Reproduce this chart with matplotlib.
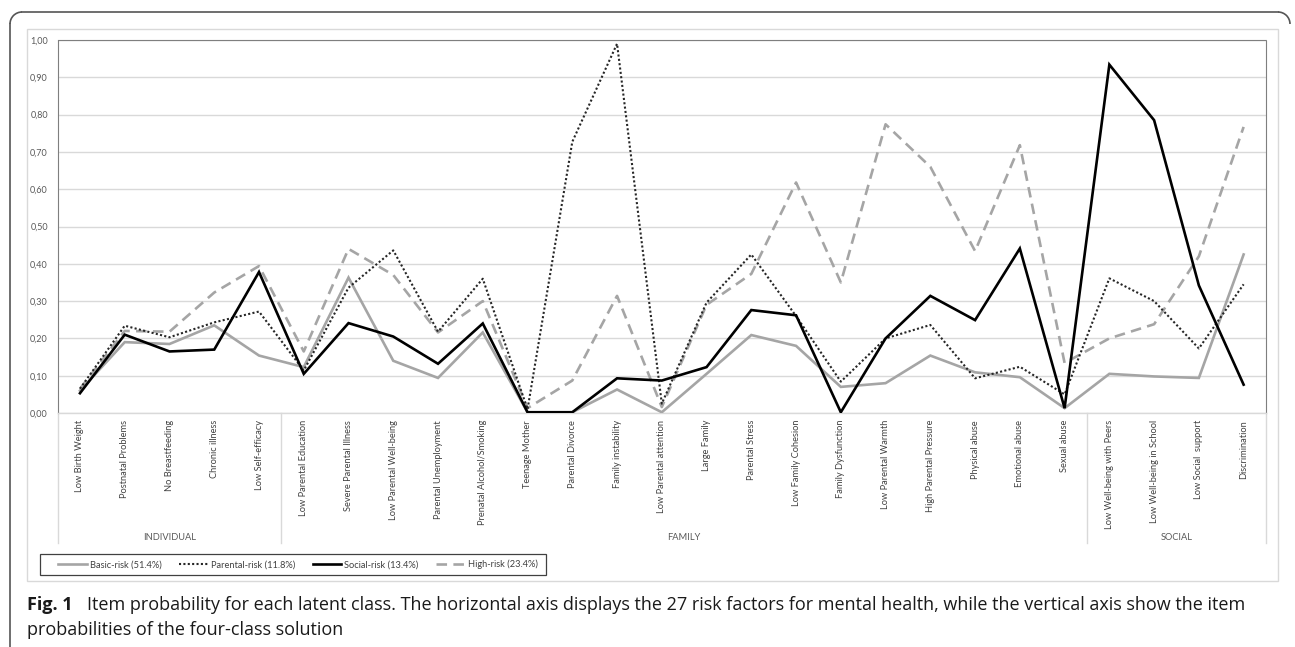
import matplotlib
matplotlib.use("Agg")
import matplotlib.pyplot as plt
from matplotlib.patches import Rectangle, Arc
from matplotlib.lines import Line2D
import matplotlib.transforms as mtransforms

categories = ["Low Birth Weight", "Postnatal Problems", "No Breastfeeding", "Chronic illness",
              "Low Self-efficacy", "Low Parental Education", "Severe Parental Illness",
              "Low Parental Well-being", "Parental Unemployment", "Prenatal Alcohol/Smoking",
              "Teenage Mother", "Parental Divorce", "Family instability", "Low Parental attention",
              "Large Family", "Parental Stress", "Low Family Cohesion", "Family Dysfunction",
              "Low Parental Warmth", "High Parental Pressure", "Physical abuse", "Emotional abuse",
              "Sexual abuse", "Low Well-being with Peers", "Low Well-being in School",
              "Low Social  support", "Discrimination"]
groups = ["INDIVIDUAL", "FAMILY", "SOCIAL"]
group_sizes = [5, 18, 4]

series_names = ["Basic-risk (51.4%)", "Parental-risk (11.8%)", "Social-risk (13.4%)", "High-risk (23.4%)"]
basic = [0.060, 0.190, 0.185, 0.235, 0.154, 0.123, 0.363, 0.140, 0.094, 0.216, 0.002, 0.002, 0.063,
         0.002, 0.105, 0.209, 0.180, 0.070, 0.080, 0.154, 0.109, 0.096, 0.013, 0.105, 0.098, 0.094, 0.425]
parental = [0.065, 0.234, 0.203, 0.243, 0.272, 0.114, 0.336, 0.436, 0.218, 0.360, 0.010, 0.727, 0.990,
            0.025, 0.296, 0.425, 0.260, 0.084, 0.200, 0.236, 0.093, 0.124, 0.050, 0.361, 0.300, 0.173, 0.345]
social = [0.053, 0.210, 0.165, 0.170, 0.378, 0.105, 0.241, 0.205, 0.132, 0.240, 0.002, 0.002, 0.093,
          0.087, 0.123, 0.276, 0.262, 0.002, 0.200, 0.314, 0.249, 0.441, 0.013, 0.934, 0.785, 0.342, 0.076]
high = [0.065, 0.220, 0.218, 0.323, 0.394, 0.165, 0.440, 0.370, 0.216, 0.300, 0.013, 0.087, 0.314,
        0.016, 0.290, 0.373, 0.618, 0.350, 0.774, 0.660, 0.434, 0.718, 0.134, 0.200, 0.238, 0.420, 0.767]

W, H = 1295, 647
fig = plt.figure(figsize=(W / 100, H / 100), dpi=100)
fig.patch.set_facecolor("white")

FONT = ["Lato", "DejaVu Sans"]
CAP_FONT = ["Open Sans", "DejaVu Sans"]

def fx(x):
    return x / W

def fy(y):
    return 1 - y / H

# axes in pixel layout
left, right, top, bottom = 57.6, 1266.0, 40.0, 413.0
ax = fig.add_axes([fx(left), fy(bottom), fx(right - left), (bottom - top) / H])
x = list(range(len(categories)))

ax.set_xlim(-0.5, len(categories) - 0.5)
ax.set_ylim(0, 1.0)
yt = [i / 10 for i in range(11)]
ax.set_yticks(yt)
ax.set_yticklabels([f"{v:.2f}".replace(".", ",") for v in yt], fontsize=6.5, color="#595959", family=FONT)
ax.grid(axis="y", color="#d9d9d9", lw=1.0)
ax.set_axisbelow(True)
ax.set_xticks(x)
ax.set_xticklabels(categories, rotation=90, fontsize=6.7, color="#404040", family=FONT, va="top")
ax.tick_params(axis="both", length=0)
ax.tick_params(axis="y", pad=7)
ax.tick_params(axis="x", pad=5)
for s in ["top", "left", "right"]:
    ax.spines[s].set_color("#7f7f7f")
    ax.spines[s].set_linestyle((0, (1, 1)))
    ax.spines[s].set_linewidth(0.8)
ax.spines["bottom"].set_color("#d9d9d9")
ax.spines["bottom"].set_linewidth(1.0)

gray = "#a5a5a5"
ax.plot(x, basic, color=gray, lw=1.9, solid_joinstyle="miter", label=series_names[0], zorder=3)
ax.plot(x, parental, color="#262626", lw=1.5, linestyle=(0, (1, 1.1)), label=series_names[1], zorder=4)
ax.plot(x, social, color="black", lw=1.9, solid_joinstyle="miter", label=series_names[2], zorder=5)
ax.plot(x, high, color=gray, lw=1.9, linestyle=(0, (4, 2.4)), label=series_names[3], zorder=3)

# group separators and labels below the axis
trans = mtransforms.blended_transform_factory(ax.transData, ax.transAxes)
sep_depth = -(543 - 413) / (bottom - top)
pos = -0.5
bounds = [pos]
for g in group_sizes:
    pos += g
    bounds.append(pos)
for b in bounds:
    ax.plot([b, b], [0, sep_depth], transform=trans, color="#d9d9d9", lw=1.0, clip_on=False)
lab_y = -(538 - 413) / (bottom - top)
for i, g in enumerate(groups):
    cx = (bounds[i] + bounds[i + 1]) / 2
    ax.text(cx, lab_y, g, transform=trans, ha="center", va="center", fontsize=6.7,
            color="#595959", family=FONT)

# inner chart frame
fig.patches.append(Rectangle((fx(27), fy(581)), fx(1278 - 27), (581 - 29) / H, transform=fig.transFigure,
                             fill=False, edgecolor="#d9d9d9", lw=1.0))

# outer rounded frame (top and left side only)
r = 12
fc = "#555555"
fig.lines.append(Line2D([fx(10 + r), fx(1290 - r)], [fy(12), fy(12)], transform=fig.transFigure, color=fc, lw=1.2))
fig.lines.append(Line2D([fx(10), fx(10)], [fy(12 + r), fy(647)], transform=fig.transFigure, color=fc, lw=1.2))
fig.patches.append(Arc((fx(10 + r), fy(12 + r)), 2 * r / W, 2 * r / H, theta1=90, theta2=180,
                       transform=fig.transFigure, color=fc, lw=1.2))
fig.patches.append(Arc((fx(1290 - r), fy(12 + r)), 2 * r / W, 2 * r / H, theta1=0, theta2=90,
                       transform=fig.transFigure, color=fc, lw=1.2))

# legend (frame drawn separately for Excel-like padding)
handles, labels = ax.get_legend_handles_labels()
leg = fig.legend(handles, labels, loc="center left", bbox_to_anchor=(fx(58), fy(564.5)), ncol=4,
                 frameon=False, prop={"family": FONT, "size": 6.7}, handlelength=3.1,
                 handletextpad=0.3, columnspacing=1.9, borderpad=0, borderaxespad=0)
for t in leg.get_texts():
    t.set_color("#404040")
fig.patches.append(Rectangle((fx(40), fy(575)), fx(546 - 40), (575 - 554) / H, transform=fig.transFigure,
                             fill=False, edgecolor="#404040", lw=0.9))

# caption
fig.text(fx(27), fy(610), "Fig. 1", fontsize=13, fontweight="bold", color="#1a1a1a", va="baseline",
         family=CAP_FONT)
fig.text(fx(87), fy(610),
         "Item probability for each latent class. The horizontal axis displays the 27 risk factors for mental health, while the vertical axis show the item",
         fontsize=13, color="#1a1a1a", va="baseline", family=CAP_FONT)
fig.text(fx(27), fy(635), "probabilities of the four-class solution", fontsize=13, color="#1a1a1a",
         va="baseline", family=CAP_FONT)

fig.savefig("out.png", dpi=100, facecolor="white")
